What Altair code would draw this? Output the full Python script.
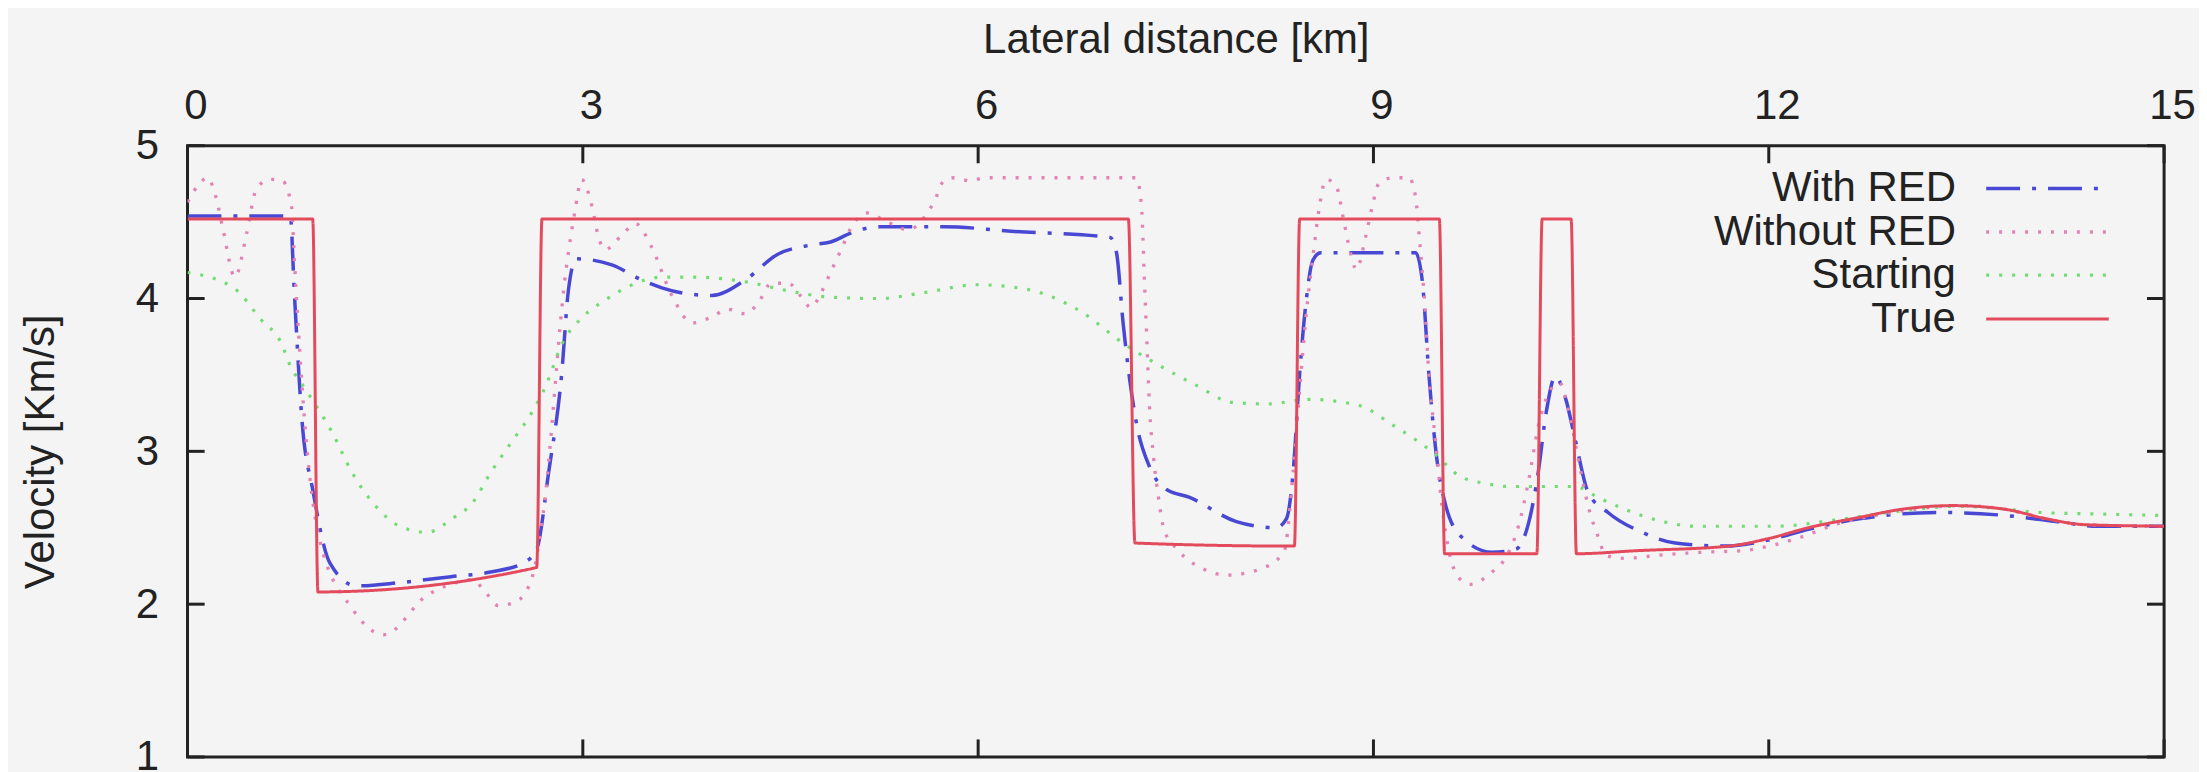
import altair as alt
import pandas as pd

# ---- axes / legend text ----
x_ticks = [0, 3, 6, 9, 12, 15]
y_ticks = [1, 2, 3, 4, 5]
x_title = "Lateral distance [km]"
y_title = "Velocity [Km/s]"

series_names = ["With RED", "Without RED", "Starting", "True"]
series_colors = ["#4848d4", "#e283b4", "#72dc72", "#e34a5c"]
series_dashes = [[34, 12, 4, 12], [3, 10], [3, 10], [1, 0]]
series_widths = [3.5, 3, 3, 3.2]

# ---- series values (km, km/s) ----
with_red_x = [0, 0.78, 0.81, 0.87, 0.95, 1.08, 1.28, 1.6, 2.0, 2.3, 2.55, 2.65, 2.74, 2.84, 2.89,
              2.95, 3.22, 3.45, 3.6, 3.8, 3.98, 4.23, 4.48, 4.73, 4.88, 5.04, 5.24, 5.74, 6.25,
              7.0, 7.05, 7.1, 7.15, 7.2, 7.3, 7.43, 7.6, 7.96, 8.26, 8.34, 8.39, 8.44, 8.49,
              8.54, 8.6, 9.32, 9.37, 9.42, 9.47, 9.55, 9.68, 9.9, 10.08, 10.18, 10.25, 10.31,
              10.38, 10.46, 10.53, 10.63, 10.78, 11.04, 11.29, 11.67, 12.0, 12.3, 12.7, 13.0,
              13.3, 13.8, 14.19, 14.5, 15]
with_red_v = [4.54, 4.54, 4.05, 3.19, 2.75, 2.27, 2.12, 2.14, 2.18, 2.21, 2.27, 2.36, 2.86, 3.51, 4.05,
              4.26, 4.22, 4.12, 4.07, 4.03, 4.02, 4.12, 4.29, 4.35, 4.37, 4.43, 4.47, 4.47, 4.44,
              4.40, 4.30, 3.84, 3.47, 3.19, 2.90, 2.75, 2.70, 2.54, 2.50, 2.56, 2.86, 3.51, 3.99,
              4.25, 4.30, 4.30, 4.12, 3.51, 3.03, 2.64, 2.43, 2.34, 2.36, 2.54, 2.86, 3.25,
              3.49, 3.34, 3.08, 2.73, 2.60, 2.47, 2.40, 2.38, 2.42, 2.49, 2.56, 2.59,
              2.60, 2.58, 2.54, 2.51, 2.51]

without_red_x = [0, 0.08, 0.15, 0.22, 0.27, 0.36, 0.45, 0.52, 0.62, 0.72, 0.79, 0.81, 0.9, 1.0,
                 1.25, 1.49, 1.82, 2.0, 2.16, 2.26, 2.36, 2.5, 2.62, 2.7, 2.87, 2.94, 2.99, 3.07,
                 3.12, 3.17, 3.29, 3.40, 3.52, 3.67, 3.83, 3.98, 4.1, 4.23, 4.33, 4.43, 4.56, 4.66,
                 4.73, 4.81, 4.88, 4.96, 5.04, 5.16, 5.29, 5.47, 5.59, 5.67, 5.74, 5.82, 5.94, 6.05,
                 7.2, 7.24, 7.26, 7.28, 7.3, 7.33, 7.37, 7.41, 7.51, 7.71, 7.89, 8.14, 8.32, 8.39,
                 8.44, 8.49, 8.54, 8.59, 8.64, 8.72, 8.77, 8.82, 8.87, 8.94, 8.99, 9.04, 9.15, 9.27,
                 9.32, 9.35, 9.39, 9.42, 9.47, 9.52, 9.57, 9.65, 9.73, 9.9, 10.0, 10.1, 10.18, 10.25,
                 10.33, 10.41, 10.49, 10.55, 10.63, 10.71, 10.76, 10.91, 11.16, 11.5, 11.8, 12.05,
                 12.25, 12.5, 12.8, 13.1, 13.45, 13.8, 14.1, 14.4, 15]
without_red_v = [4.63, 4.74, 4.79, 4.65, 4.45, 4.14, 4.43, 4.71, 4.78, 4.77, 4.60, 4.27, 3.08, 2.43,
                 1.97, 1.80, 2.06, 2.13, 2.16, 2.08, 1.99, 2.02, 2.19, 2.60, 4.17, 4.57, 4.78, 4.60,
                 4.40, 4.32, 4.41, 4.49, 4.34, 4.03, 3.84, 3.88, 3.93, 3.90, 3.97, 4.10, 4.10, 4.01,
                 3.94, 4.04, 4.17, 4.32, 4.47, 4.56, 4.51, 4.45, 4.53, 4.64, 4.77, 4.79, 4.77, 4.79,
                 4.79, 4.60, 4.16, 3.73, 3.30, 2.97, 2.69, 2.49, 2.36, 2.23, 2.19, 2.23, 2.34, 2.86,
                 3.40, 3.90, 4.27, 4.60, 4.78, 4.73, 4.53, 4.32, 4.19, 4.40, 4.60, 4.75, 4.79, 4.79,
                 4.66, 4.38, 3.95, 3.51, 3.08, 2.64, 2.36, 2.17, 2.13, 2.21, 2.30, 2.51, 2.82, 3.16,
                 3.38, 3.45, 3.23, 2.97, 2.64, 2.43, 2.32, 2.30, 2.32, 2.34, 2.35, 2.39,
                 2.44, 2.52, 2.58, 2.62, 2.645, 2.62, 2.56, 2.52, 2.51]

starting_x = [0, 0.35, 0.56, 0.71, 0.78, 0.9, 1.1, 1.25, 1.43, 1.61, 1.82, 2.01, 2.16, 2.3, 2.45,
              2.61, 2.72, 2.84, 3.0, 3.17, 3.35, 3.6, 3.85, 4.23, 4.56, 4.86, 5.24, 5.6, 5.99, 6.37,
              6.75, 7.13, 7.4, 7.66, 7.93, 8.2, 8.51, 8.89, 9.15, 9.47, 9.65, 9.85, 10.03, 10.53,
              10.7, 10.91, 11.2, 11.44, 12.05, 12.5, 13.0, 13.43, 13.7, 14.06, 14.5, 15]
starting_v = [4.17, 4.07, 3.86, 3.71, 3.56, 3.40, 3.12, 2.86, 2.64, 2.51, 2.47, 2.56, 2.66, 2.86, 3.05,
              3.25, 3.43, 3.70, 3.88, 3.99, 4.08, 4.14, 4.14, 4.11, 4.05, 4.01, 4.00, 4.04, 4.09, 4.06,
              3.93, 3.69, 3.55, 3.43, 3.32, 3.31, 3.34, 3.30, 3.17, 2.98, 2.84, 2.79, 2.77, 2.77,
              2.70, 2.62, 2.54, 2.51, 2.51, 2.55, 2.61, 2.64, 2.63, 2.60, 2.59, 2.58]

true_x = [0, 0.95, 0.99, 2.65, 2.69, 7.14, 7.19, 8.40, 8.44, 9.50, 9.54, 10.24, 10.28, 10.50, 10.54,
          11.0, 11.7, 12.0, 12.3, 12.7, 13.0, 13.4, 13.8, 14.1, 14.4, 15]
true_v = [4.52, 4.52, 2.08, 2.24, 4.52, 4.52, 2.40, 2.38, 4.52, 4.52, 2.33, 2.33, 4.52, 4.52, 2.33,
          2.35, 2.38, 2.43, 2.50, 2.57, 2.62, 2.645, 2.62, 2.56, 2.52, 2.51]

# legend placement (data units)
legend_label_x = 13.42
legend_line_x1 = 13.65
legend_line_x2 = 14.58
legend_y = [4.72, 4.435, 4.153, 3.866]

tick_len_v = 0.115
tick_len_km = 0.13

FONT = "Liberation Sans"
TXT = "#222222"
W, H = 1982, 613

# ---- tables ----
frames = []
for name, xs, vs in [("With RED", with_red_x, with_red_v),
                     ("Without RED", without_red_x, without_red_v),
                     ("Starting", starting_x, starting_v),
                     ("True", true_x, true_v)]:
    frames.append(pd.DataFrame({"km": xs, "v": vs, "series": name}))
lines_df = pd.concat(frames, ignore_index=True)

legend_df = pd.DataFrame({
    "series": series_names,
    "v": legend_y,
    "km": [legend_label_x] * 4,
    "l1": [legend_line_x1] * 4,
    "l2": [legend_line_x2] * 4,
})

ticks_rows = []
for t in x_ticks:
    ticks_rows.append({"km": t, "km2": t, "v": 5, "v2": 5 - tick_len_v})
    ticks_rows.append({"km": t, "km2": t, "v": 1, "v2": 1 + tick_len_v})
for t in y_ticks:
    ticks_rows.append({"km": 0, "km2": tick_len_km, "v": t, "v2": t})
    ticks_rows.append({"km": 15, "km2": 15 - tick_len_km, "v": t, "v2": t})
ticks_df = pd.DataFrame(ticks_rows)

# ---- shared encodings ----
xscale = alt.Scale(domain=[0, 15], nice=False, zero=False)
yscale = alt.Scale(domain=[1, 5], nice=False, zero=False)
xaxis = alt.Axis(orient="top", values=x_ticks, title=x_title, ticks=False, tickSize=0,
                 domain=False, grid=False, labelFontSize=42, labelFont=FONT, labelColor=TXT,
                 labelPadding=27, labelBaseline="alphabetic", labelFlush=False,
                 labelOverlap=False, labelOffset=8,
                 titleFontSize=42, titleFont=FONT, titleColor=TXT, titleFontWeight="normal",
                 titleX=W / 2, titleY=-93, titleBaseline="alphabetic", titleAlign="center")
yaxis = alt.Axis(orient="left", values=y_ticks, title=y_title, ticks=False, tickSize=0,
                 domain=False, grid=False, labelFontSize=42, labelFont=FONT, labelColor=TXT,
                 labelPadding=29, labelAlign="right", labelBaseline="middle", labelFlush=False,
                 labelOverlap=False,
                 titleFontSize=42, titleFont=FONT, titleColor=TXT, titleFontWeight="normal",
                 titleX=-134, titleY=H / 2, titleAngle=270, titleBaseline="alphabetic",
                 titleAlign="center")

X = alt.X("km:Q", scale=xscale, axis=xaxis)
Y = alt.Y("v:Q", scale=yscale, axis=yaxis)

color = alt.Color("series:N", scale=alt.Scale(domain=series_names, range=series_colors), legend=None)
dash = alt.StrokeDash("series:N", scale=alt.Scale(domain=series_names, range=series_dashes), legend=None)
size = alt.Size("series:N", scale=alt.Scale(domain=series_names, range=series_widths), legend=None)

lines = alt.Chart(lines_df).mark_line(interpolate="monotone", clip=True).encode(
    x=X, y=Y, color=color, strokeDash=dash, size=size,
    order=alt.Order("km:Q"),
)

ticks = alt.Chart(ticks_df).mark_rule(color="#222222", strokeWidth=3).encode(
    x=X, x2=alt.X2("km2"), y=Y, y2=alt.Y2("v2"),
)

legend_lines = alt.Chart(legend_df).mark_rule().encode(
    x=alt.X("l1:Q", scale=xscale, axis=xaxis), x2=alt.X2("l2"), y=Y,
    color=color, strokeDash=dash, size=size,
)

legend_text = alt.Chart(legend_df).mark_text(
    align="right", baseline="middle", fontSize=42, font=FONT, color=TXT
).encode(x=X, y=Y, text="series:N")

chart = alt.layer(lines, ticks, legend_lines, legend_text).properties(
    width=W, height=H,
    autosize=alt.AutoSizeParams(type="none"),
    padding={"left": 180, "top": 137, "right": 35, "bottom": 20},
    background="#f4f4f4",
).configure_view(stroke="#222222", strokeWidth=3, fill="#f4f4f4")

chart.save("out.html", embed_options={"renderer": "svg", "actions": False})
